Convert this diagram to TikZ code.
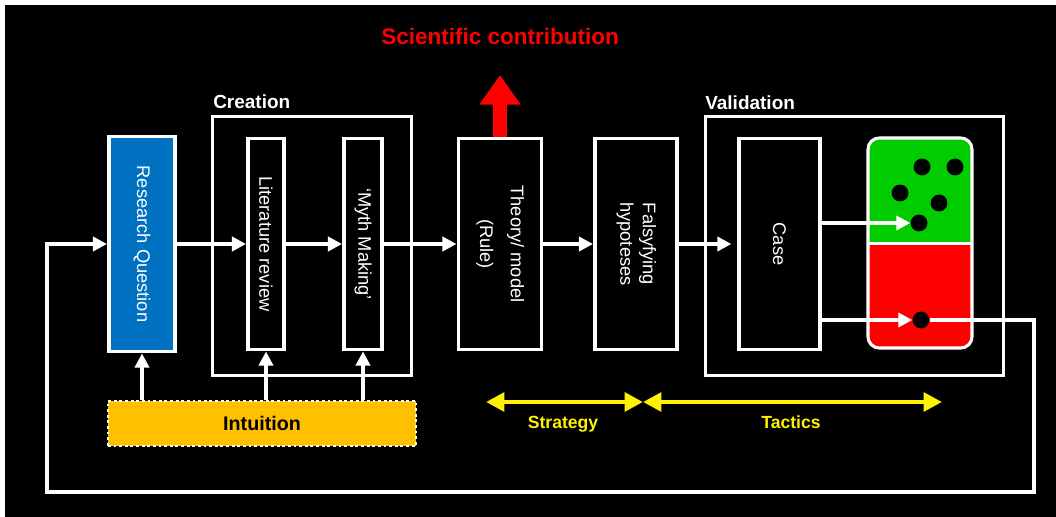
\documentclass[tikz,border=0pt]{standalone}
\usepackage{fontspec}
\setmainfont{Liberation Sans}
\usetikzlibrary{arrows.meta}

\definecolor{rqblue}{RGB}{0,112,192}
\definecolor{okgreen}{RGB}{0,204,0}
\definecolor{intorange}{RGB}{255,192,0}

\tikzset{
  stage/.style={draw=white, line width=2.8pt, fill=black, text=white, inner sep=0pt,
                minimum height=5.275cm, font=\fontsize{13}{16}\selectfont},
  flow/.style={white, line width=2.5pt, -{Triangle[length=10pt,width=10pt]}},
  frame/.style={draw=white, line width=2.2pt},
  dot/.style={circle, fill=black, inner sep=0pt, minimum size=0.42cm},
  span/.style={yellow, line width=3.5pt, {Triangle[length=13pt,width=13pt]}-{Triangle[length=13pt,width=13pt]}},
  heading/.style={text=white, font=\fontsize{13.5}{16}\selectfont\bfseries, inner sep=0pt},
}

\begin{document}
\begin{tikzpicture}[x=0.025cm, y=-0.025cm]
      \fill[white] (0,0) rectangle (1056,517);
      \fill[black] (5,5) rectangle (1056,517);

      \draw[frame] (212.5,116.5) rectangle (411.5,375.5);
      \draw[frame] (705.5,116.5) rectangle (1003.5,375.5);
      \node[heading, anchor=base west] (creation) at (213,109) {Creation};
      \node[heading, anchor=base west] (validation) at (705,110) {Validation};

      \node[stage, fill=rqblue, minimum width=1.65cm, minimum height=5.375cm] (rq) at (142,244)
        {\rotatebox{-90}{Research Question}};
      \node[stage, minimum width=0.9cm] (lit) at (266,244) {\rotatebox{-90}{Literature review}};
      \node[stage, minimum width=0.95cm] (myth) at (363,244) {\rotatebox{-90}{`Myth Making'}};
      \node[stage, minimum width=2.075cm] (theory) at (500,244)
        {\rotatebox{-90}{\begin{tabular}{c}Theory/ model\\[6pt](Rule)\end{tabular}}};
      \node[stage, minimum width=2.05cm] (fals) at (636,244)
        {\rotatebox{-90}{\begin{tabular}{c}Falsyfying\\hypoteses\end{tabular}}};
      \node[stage, minimum width=2.025cm] (case) at (779.5,244) {\rotatebox{-90}{Case}};

      \begin{scope}
        \clip[rounded corners=8pt] (868,138) rectangle (972,348);
        \fill[okgreen] (868,138) rectangle (972,243.5);
        \fill[red] (868,243.5) rectangle (972,348);
      \end{scope}
      \draw[white, line width=2pt] (868,243.5) -- (972,243.5);
      \draw[white, line width=2.2pt, rounded corners=8pt] (868,138) rectangle (972,348);
      \node[dot] (g1) at (922,167) {};
      \node[dot] (g2) at (955,167) {};
      \node[dot] (g3) at (900,193) {};
      \node[dot] (g4) at (939,203) {};
      \node[dot] (g5) at (919,223) {};
      \node[dot] (r1) at (921,320) {};

      \node[draw=white, line width=2pt, dash pattern=on 2pt off 2pt, fill=intorange,
            minimum width=7.7cm, minimum height=1.125cm,
            font=\fontsize{14}{16}\selectfont\bfseries] (int) at (262,423.5) {Intuition};

      \node[text=red, font=\fontsize{16}{18}\selectfont\bfseries, anchor=base] (sci) at (500,45)
        {Scientific contribution};
      \coordinate (tip) at (500,75);

      \draw[flow] (rq.east) -- (lit.west);
      \draw[flow] (lit.east) -- (myth.west);
      \draw[flow] (myth.east) -- (theory.west);
      \draw[flow] (theory.east) -- (fals.west);
      \draw[flow] (fals.east) -- ([xshift=-4pt]case.west);
      \draw[flow] (case.east |- g5) -- (g5);
      \draw[flow] (case.east |- r1) -- (r1);

      \coordinate (loopr) at (1034,492);
      \coordinate (loopl) at (47,492);
      \draw[flow] (r1.east) -| (loopr) -- (loopl) |- (rq.west);

      \draw[flow] (int.north -| rq.south) -- (rq.south);
      \draw[flow] (int.north -| lit.south) -- (lit.south);
      \draw[flow] (int.north -| myth.south) -- (myth.south);

      \draw[red, line width=10pt, -{Triangle[length=21pt,width=28pt]}] (theory.north) -- (tip);

      \coordinate (s0) at (486,402);
      \coordinate (s1) at (643,402);
      \coordinate (t1) at (942,402);
      \draw[span] (s0) -- (s1);
      \draw[span] (s1) -- (t1);
      \node[text=yellow, font=\fontsize{12.5}{15}\selectfont\bfseries, anchor=base] (strategy) at (563,428) {Strategy};
      \node[text=yellow, font=\fontsize{12.5}{15}\selectfont\bfseries, anchor=base] (tactics) at (791,428) {Tactics};
    \end{tikzpicture}
\end{document}
